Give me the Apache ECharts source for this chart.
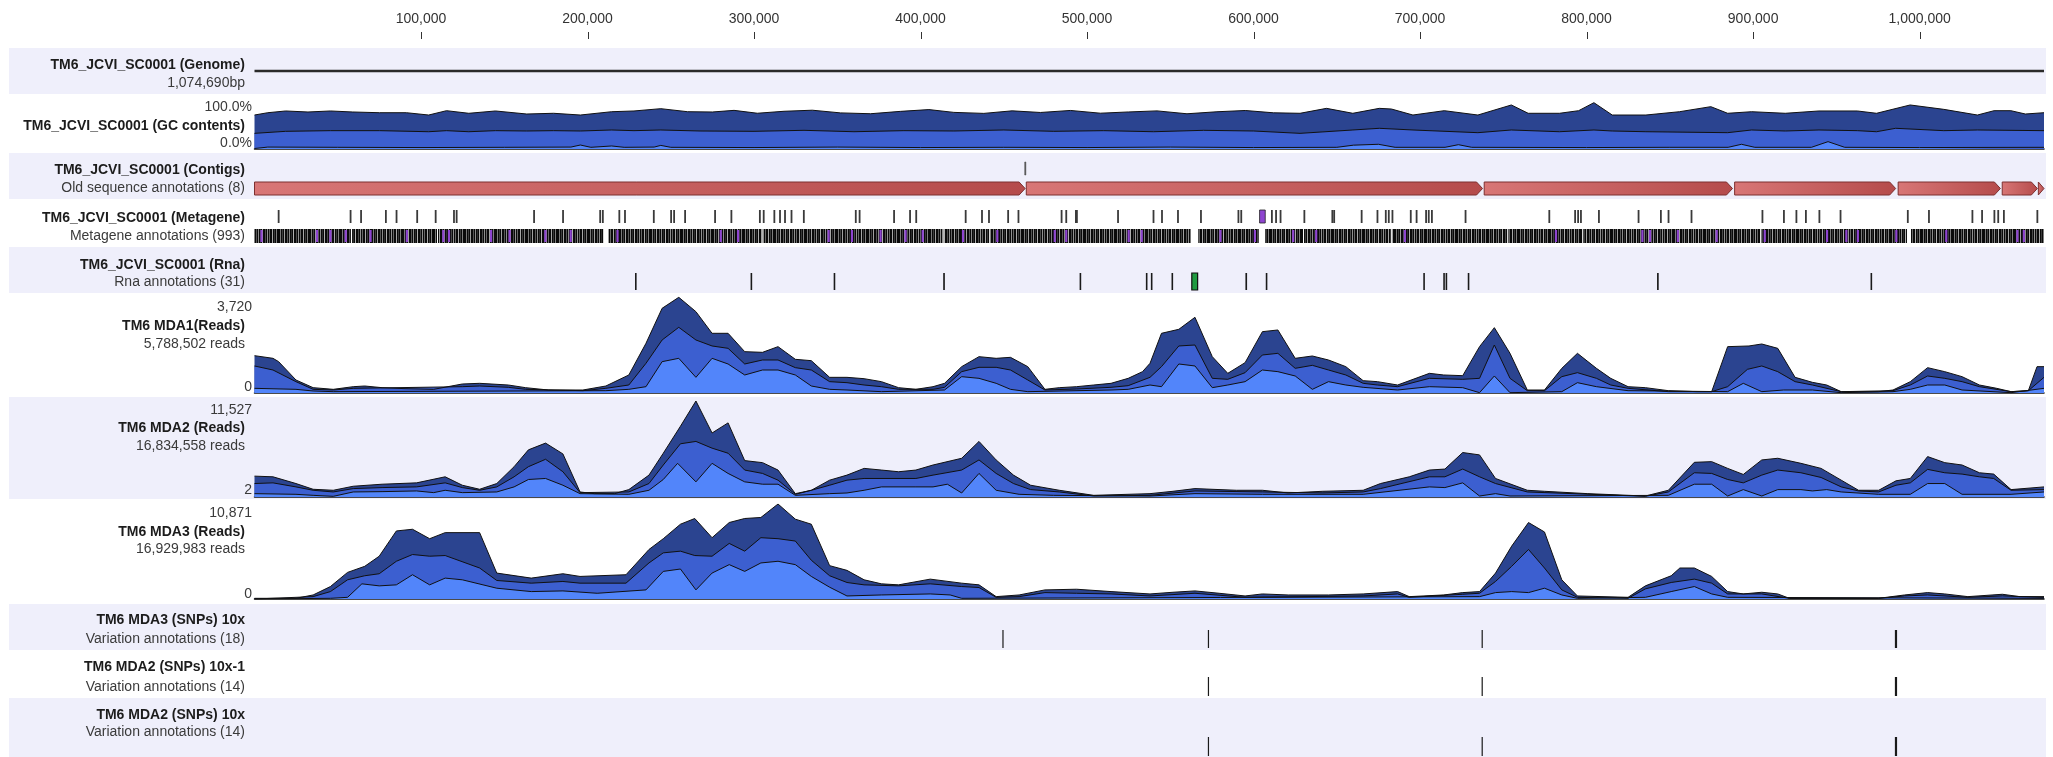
<!DOCTYPE html>
<html>
<head>
<meta charset="utf-8">
<style>
html,body{margin:0;padding:0;background:#fff;}
#chart{width:2053px;height:757px;}
</style>
<script src="https://cdn.jsdelivr.net/npm/echarts@6/dist/echarts.min.js"></script>
</head>
<body>
<div id="chart"></div>
<script>
// ---------------- DATA ----------------
const KB = 1000;
const genomeLength = 1074690;
const axisTicks = [100000, 200000, 300000, 400000, 500000, 600000, 700000, 800000, 900000, 1000000];

const trackTitles = ['TM6_JCVI_SC0001 (Genome)', 'TM6_JCVI_SC0001 (GC contents)', 'TM6_JCVI_SC0001 (Contigs)',
  'TM6_JCVI_SC0001 (Metagene)', 'TM6_JCVI_SC0001 (Rna)', 'TM6 MDA1(Reads)', 'TM6 MDA2 (Reads)', 'TM6 MDA3 (Reads)',
  'TM6 MDA3 (SNPs) 10x', 'TM6 MDA2 (SNPs) 10x-1', 'TM6 MDA2 (SNPs) 10x'];
const trackSubtitles = ['1,074,690bp', '', 'Old sequence annotations (8)', 'Metagene annotations (993)', 'Rna annotations (31)',
  '5,788,502 reads', '16,834,558 reads', '16,929,983 reads', 'Variation annotations (18)', 'Variation annotations (14)', 'Variation annotations (14)'];
const gcRange = [0, 100];
const gcRangeLabels = ['100.0%', '0.0%'];
const readsMax = [3720, 11527, 10871];
const readsMin = [0, 2, 0];

// GC contents (kb, %) - three stacked layer boundaries
const gcTop = [[0,70.8],[8,75.6],[18.7,79.2],[32.1,77.1],[45.6,79.2],[59,77.1],[75.1,75.6],[91.2,75.6],[104.6,70.8],[115.3,79.8],[128.7,74.4],[144.7,79.2],[163.5,72.9],[179.6,74.4],[195.7,70.8],[214.5,77.7],[227.9,79.2],[244,84],[260.1,77.7],[275,77.1],[288,80.5],[302,74.5],[318,78.6],[335,80.8],[352,75.2],[370,73.5],[388,78.4],[405,82.1],[420,76.3],[438,74.2],[455,79.5],[472,76.1],[490,80.3],[508,74.6],[525,77.2],[542,79.4],[560,73.4],[578,77.6],[595,80.2],[612,75.4],[627.9,74.4],[643.8,84.7],[659.6,74.4],[675.5,84.7],[682.8,83.3],[695.7,70.8],[714.5,79.8],[734.7,70.8],[754.8,91.7],[764.9,74.4],[783.7,74.4],[795.2,79.8],[804.4,96.5],[815.4,70.8],[835.6,70.8],[855.8,77.7],[874.6,88.2],[884.7,74.4],[899.1,77.7],[919.3,74.4],[939.5,79.2],[962.6,79.2],[974.1,74.4],[994.3,91.7],[1014.5,82.6],[1034.7,70.8],[1044.7,79.8],[1054.8,79.8],[1063.5,72.9],[1074.69,75.6]];
const gcMid = [[0,32.6],[18.7,36.8],[45.6,38.2],[75.1,38.2],[104.6,36],[115.3,38.2],[128.7,36],[144.7,38.2],[163.5,37.5],[179.6,38.2],[195.7,37.5],[214.5,39.6],[227.9,38.2],[244,39.6],[267.6,37.5],[300,36.8],[330,38.9],[360,36],[390,38.2],[420,37.5],[450,39.6],[480,36.8],[510,38.2],[540,36],[570,38.9],[600,37.5],[627.9,32.6],[659.6,39.6],[675.5,43.1],[695.7,39.6],[734.7,34],[754.8,39.6],[783.7,36],[804.4,39.6],[815.4,37.5],[835.6,36],[884.7,34],[899.1,39.6],[919.3,37.5],[939.5,39.6],[962.6,38.2],[974.1,36],[985.6,43.1],[1014.5,38.2],[1034.7,39.6],[1074.69,38.2]];
const gcLow = [[0,1],[8,4],[50,3.5],[100,3],[150,3.5],[190,4],[195.7,8.3],[202,3.5],[214.5,6.3],[222,3.5],[240,4],[244,7.5],[250,3.5],[300,3],[350,4],[400,3],[450,3.5],[500,3],[550,4],[600,3],[650,3.5],[660,8],[675,9.8],[685,3.5],[715,3.5],[723,9],[731,3.5],[800,3],[850,3.5],[885,3.5],[893,9.8],[901,3.5],[935,3.5],[945,15.3],[955,3.5],[1000,3],[1074.69,3.5]];

// Contigs (kb start, kb end, row)
const contigs = [[0,462.8,0],[463.5,737.5,0],[738.5,887.6,0],[888.9,985.6,0],[987.1,1048.5,0],[1049.6,1070.7,0],[1071.3,1074.69,0],[462.6,463.2,1]];

// Metagene (kb)
const metageneRow1 = [14.5,57.7,64,78.9,85.3,97.7,108.8,119.8,121.4,167.9,185.3,207.6,209.2,219.1,222.5,239.8,250.2,252,258.6,276.6,286.4,303.5,305.8,312.2,315.6,318.6,322.5,329.9,361.1,363.4,384.1,393.7,397.4,427.1,436.9,441.1,452.6,458.8,484.7,487.5,493.3,493.9,518.6,539.9,545,554.6,568.4,590.9,592.6,611,613.5,616.2,630.5,647.3,648.4,664.9,674.4,679.4,681.2,683.4,694.4,697.9,703.6,705.2,707.1,727.3,777.6,793.1,794.9,796.6,807.4,831.2,844.6,849.2,863,905.6,918.5,926,931.7,939.8,952.5,992.9,1005.6,1031.7,1037.5,1044.9,1047.2,1050.6,1070.7];
const metageneRow1Purple = [[603.6,607]];
const metageneRow2Blocks = [[0,57.9],[58.6,109.6],[110.2,209.6],[212.4,304.5],[305.2,413.2],[413.9,441.3],[442,562.2],[566.8,603.1],[607,629.7],[630.3,682.6],[683.3,752.4],[753,797.4],[798,904.3],[905,992.4],[994.8,1074.69]];
const metageneRow2Purple = [4.2,37.5,45.6,54.8,69.7,91.5,113.4,116.8,142.1,153.2,174.7,189.9,218,280,290.4,344.8,358.8,376,391,401.3,425.5,446.1,480.6,487.5,525,532.8,580.1,600.8,623.8,637.6,690.9,781.6,833.5,838.1,854.8,878.1,907,944.4,956,962.9,986,1016,1058.7,1062.6];

// Rna (kb start, kb end, type 0=black 1=green)
const rnaGenes = [[229,229,0],[298.4,298.4,0],[347.9,348.7,0],[413.6,414.6,0],[496,496,0],[535.8,535.8,0],[538.8,538.8,0],[551.2,551.2,0],[562.9,566.4,1],[595.1,596.1,0],[607.8,607.8,0],[702.4,702.4,0],[714.4,714.4,0],[715.8,715.8,0],[729.1,729.1,0],[842.3,843.3,0],[971,971,0]];

// Reads coverage (kb, reads) - boundaries of the three layers
const mda1Top = [[0,1447],[11.1,1344],[14.5,1214],[24.9,504],[35.2,207],[47.3,142],[59.3,245],[66.2,271],[76.6,207],[90.4,168],[107.6,142],[124.8,349],[135.2,375],[152.4,310],[162.8,207],[176.5,116],[197.2,116],[211,271],[224.8,698],[235.1,1925],[244.8,3282],[254.8,3708],[265.1,3152],[274.8,2313],[284.4,2313],[294.4,1602],[305.1,1576],[314.4,1796],[324.8,1305],[334.4,1253],[345.4,607],[355.8,607],[366.1,555],[376.5,439],[386.8,207],[397.2,142],[407.5,245],[414.4,375],[424.7,1021],[435.1,1408],[445.4,1344],[454,1382],[464.4,1021],[474.7,142],[483.3,207],[493.7,245],[504,310],[514.4,375],[524.7,568],[533.3,827],[537.8,1150],[544.7,2313],[555.1,2468],[564.8,2933],[575.2,1408],[584.5,762],[594.9,1176],[605.3,2377],[614.6,2442],[625,1344],[635.3,1434],[645,1279],[655.4,1021],[665.8,478],[674.4,439],[686.5,310],[705.6,762],[714.2,698],[725.6,672],[735.7,1796],[744.6,2532],[754,1537],[764.4,116],[774.7,116],[785.1,956],[794.5,1537],[805.9,956],[814.5,568],[824.9,245],[835.3,207],[849.1,90],[866.4,52],[875.1,52],[884.7,1796],[897.5,1822],[905.2,1899],[914.8,1731],[925.2,607],[935.6,413],[944.2,310],[952.9,52],[975.4,52],[984,116],[994.4,439],[1004.8,982],[1015.1,827],[1025.5,633],[1035.9,310],[1046.3,181],[1054.9,52],[1065.3,90],[1070.5,1021],[1074.69,1021]];
const mda1Mid = [[0,1047],[11.1,891],[24.9,439],[35.2,142],[47.3,116],[59.3,181],[124.8,245],[135.2,271],[152.4,220],[162.8,142],[197.2,90],[211,181],[224.8,310],[235.1,1150],[244.8,2054],[254.8,2545],[265.1,2054],[274.8,1822],[284.4,1731],[294.4,1124],[305.1,1279],[314.4,1279],[324.8,982],[334.4,891],[345.4,439],[355.8,400],[366.1,310],[376.5,245],[386.8,142],[407.5,142],[414.4,220],[424.7,827],[435.1,995],[445.4,995],[454,891],[464.4,504],[474.7,116],[493.7,155],[514.4,220],[524.7,284],[537.8,607],[544.7,1021],[555.1,1822],[564.8,1860],[575.2,568],[584.5,530],[594.9,788],[605.3,1473],[614.6,1537],[625,956],[635.3,1072],[645,891],[655.4,698],[665.8,375],[674.4,310],[686.5,245],[705.6,568],[725.6,530],[735.7,568],[744.6,1860],[754,568],[764.4,90],[774.7,90],[785.1,633],[794.5,788],[805.9,568],[814.5,310],[824.9,181],[849.1,52],[875.1,52],[884.7,245],[896.6,917],[905.2,1047],[914.8,827],[925.2,439],[935.6,310],[952.9,52],[984,90],[994.4,310],[1004.8,659],[1015.1,568],[1025.5,439],[1035.9,245],[1054.9,52],[1065.3,90],[1074.69,607]];
const mda1Low = [[0,181],[24.9,142],[35.2,78],[47.3,52],[211,90],[224.8,142],[235.1,245],[244.8,1214],[254.8,1344],[265.1,607],[274.8,1344],[284.4,1124],[294.4,698],[305.1,891],[314.4,891],[324.8,698],[334.4,271],[345.4,142],[355.8,116],[376.5,52],[414.4,116],[424.7,633],[435.1,568],[445.4,375],[454,142],[464.4,52],[514.4,116],[524.7,142],[537.8,310],[544.7,245],[555.1,1124],[564.8,1047],[575.2,207],[584.5,310],[594.9,439],[605.3,891],[614.6,827],[625,659],[635.3,142],[645,439],[655.4,310],[665.8,220],[686.5,116],[705.6,245],[725.6,207],[735.7,13],[744.6,659],[754,13],[785.1,52],[794.5,400],[805.9,245],[824.9,90],[884.7,52],[894.1,375],[905.2,52],[918.3,116],[935.6,116],[952.9,13],[984,52],[994.4,142],[1004.8,310],[1015.1,310],[1025.5,116],[1054.9,13],[1074.69,181]];

const mda2Top = [[0,2508],[11.1,2427],[24.9,1618],[35.2,930],[47.3,809],[59.3,1294],[76.6,1537],[97.3,1699],[114.5,2427],[124.8,1416],[135.2,930],[145.5,1618],[155.9,3640],[164.5,5663],[174.8,6472],[185.2,5178],[195.5,607],[204.1,405],[216.2,405],[224.8,890],[236.9,2629],[245.5,5259],[255.8,8495],[265.1,11527],[274.8,7686],[284.4,8899],[294.4,4369],[305.1,4126],[314.4,3236],[324.8,405],[334.4,809],[345.4,2023],[355.8,2629],[366.1,3438],[376.5,3236],[386.8,3034],[397.2,3236],[407.5,3843],[424.7,4652],[435.1,6674],[445.4,4450],[455.8,2629],[466.1,1416],[483.3,809],[504,202],[537.8,405],[551.6,688],[564.8,1011],[589.7,809],[605.3,809],[620.8,485],[641.6,688],[665.8,809],[676.2,1618],[693.5,2427],[705.6,3236],[714.9,3357],[725.6,5339],[735.7,5056],[745.3,2225],[764.4,809],[774.7,688],[800.7,405],[835.3,121],[849.1,809],[864.7,4166],[875.1,4247],[884.7,3438],[894.1,2710],[905.2,4450],[914.8,4652],[928.7,4045],[940.8,3438],[952.9,2023],[963.3,809],[975.4,809],[985.8,1942],[994.4,2225],[1004.8,4854],[1015.1,4126],[1025.5,3843],[1035.9,2912],[1044.5,2751],[1054.9,890],[1074.69,1214]];
const mda2Mid = [[0,1618],[11.1,1699],[24.9,1214],[35.2,809],[47.3,607],[59.3,1011],[76.6,1133],[97.3,1214],[114.5,1699],[124.8,1133],[135.2,809],[145.5,1214],[155.9,2427],[164.5,3640],[174.8,4530],[185.2,3034],[195.5,526],[224.8,607],[236.9,1618],[245.5,3843],[255.8,6391],[265.1,6674],[274.8,5865],[284.4,5259],[294.4,3236],[305.1,2832],[314.4,2023],[324.8,324],[334.4,809],[345.4,1416],[355.8,2023],[366.1,2225],[397.2,2225],[407.5,2629],[424.7,3236],[435.1,4450],[445.4,2832],[455.8,1618],[466.1,890],[483.3,607],[504,121],[537.8,202],[564.8,728],[605.3,607],[641.6,485],[665.8,607],[676.2,1011],[705.6,2427],[714.9,2427],[725.6,3357],[735.7,2427],[745.3,1618],[764.4,607],[835.3,81],[849.1,607],[864.7,2912],[875.1,2832],[884.7,2103],[894.1,1699],[905.2,2629],[914.8,3236],[928.7,2912],[940.8,2346],[952.9,1214],[963.3,728],[975.4,607],[985.8,1416],[994.4,1699],[1004.8,3317],[1015.1,2912],[1025.5,2751],[1035.9,2427],[1044.5,2225],[1054.9,809],[1074.69,890]];
const mda2Low = [[0,405],[24.9,324],[35.2,202],[47.3,81],[59.3,607],[76.6,647],[97.3,728],[107.6,526],[114.5,809],[124.8,526],[145.5,607],[155.9,1214],[164.5,2103],[174.8,2225],[185.2,1416],[195.5,405],[224.8,324],[236.9,809],[245.5,2103],[254.1,4045],[265.1,1820],[274.8,4045],[284.4,2832],[294.4,1820],[305.1,1537],[314.4,1537],[324.8,202],[345.4,405],[355.8,485],[366.1,809],[376.5,1214],[397.2,1214],[407.5,1214],[416.1,1537],[424.7,485],[435.1,2832],[445.4,809],[459.2,324],[479.9,202],[537.8,121],[564.8,405],[605.3,324],[665.8,324],[705.6,1214],[714.9,1133],[725.6,1699],[735.7,121],[745.3,405],[754,121],[849.1,202],[864.7,1537],[875.1,1537],[884.7,121],[894.1,890],[905.2,121],[914.8,890],[928.7,890],[935.6,728],[944.2,890],[952.9,607],[975.4,324],[994.4,324],[1004.8,1618],[1015.1,1618],[1025.5,324],[1054.9,324],[1074.69,607]];

const mda3Top = [[0,77],[24.9,77],[35.2,463],[45.6,1426],[55.9,3045],[66.2,3739],[74.9,4896],[85.2,7787],[94.9,7980],[105.2,6900],[114.5,7594],[135.2,7594],[145.5,2968],[166.2,2390],[185.2,2891],[195.5,2583],[223.1,2776],[236.9,5667],[245.5,6900],[255.8,8558],[264.4,9213],[274.8,7016],[285.1,8751],[294.4,9213],[304.1,9329],[314.4,10871],[324.8,9136],[334.4,8558],[345.4,3816],[355.8,3277],[366.1,2197],[376.5,1735],[386.8,1619],[405.8,2274],[424.7,1812],[435.1,1619],[445.4,270],[459.2,463],[474.7,1041],[493.7,1118],[514.4,848],[537.8,578],[551.6,771],[564.8,925],[579.3,655],[594.9,347],[605.3,578],[620.8,463],[645,463],[665.8,578],[686.5,848],[693.5,270],[714.2,463],[725.6,733],[735.7,848],[745.3,2968],[755,6052],[765.1,8751],[774.7,7672],[785.1,2197],[794.5,347],[824.9,193],[835.3,1503],[850.8,2660],[856,3547],[864.7,3547],[875.1,2583],[884.7,848],[894.1,578],[905.2,771],[914.8,578],[921.8,77],[975.4,77],[991,463],[1004.8,733],[1015.1,578],[1029,270],[1049.7,540],[1060.1,270],[1074.69,270]];
const mda3Mid = [[0,0],[35.2,270],[45.6,848],[55.9,2197],[66.2,2660],[74.9,2891],[85.2,4318],[94.9,5089],[105.2,4896],[114.5,4973],[135.2,3547],[145.5,2120],[166.2,1812],[185.2,2005],[195.5,1812],[223.1,1812],[236.9,4125],[245.5,5281],[255.8,5474],[264.4,4973],[274.8,4896],[285.1,6361],[294.4,5474],[304.1,7016],[314.4,6900],[324.8,6631],[334.4,4433],[345.4,2660],[355.8,1889],[366.1,1619],[386.8,1503],[405.8,1735],[424.7,1426],[435.1,1311],[445.4,193],[459.2,270],[474.7,733],[493.7,655],[514.4,578],[537.8,347],[564.8,655],[594.9,193],[665.8,347],[686.5,578],[693.5,193],[725.6,540],[735.7,655],[745.3,2005],[755,3739],[765.1,5667],[774.7,3547],[785.1,1041],[794.5,193],[824.9,77],[835.3,1157],[850.8,1889],[864.7,2274],[875.1,1812],[884.7,578],[905.2,578],[921.8,77],[975.4,77],[991,347],[1004.8,463],[1029,193],[1049.7,347],[1074.69,193]];
const mda3Low = [[0,0],[45.6,77],[55.9,193],[64.5,1735],[74.9,1503],[85.2,1619],[94.9,2776],[105.2,1619],[114.5,2390],[124.8,2197],[145.5,1234],[166.2,848],[185.2,925],[205.8,655],[235.1,1041],[245.5,3161],[255.8,3431],[265.1,1041],[274.8,2968],[285.1,3932],[294.4,3161],[304.1,4125],[314.4,4318],[324.8,3932],[334.4,2583],[345.4,1349],[355.8,347],[376.5,463],[405.8,578],[417.8,463],[424.7,77],[735.7,270],[745.3,733],[755,848],[765.1,733],[774.7,1234],[785.1,463],[794.5,77],[835.3,193],[850.8,848],[864.7,1426],[875.1,578],[884.7,193],[1074.69,77]];

// SNPs (kb)
const snpMda3 = [449.5, 572.9, 737.3, 985.5, 985.8, 986.1];
const snpMda2a = [572.9, 737.3, 985.5, 985.8, 986.1];
const snpMda2b = [572.9, 737.3, 985.5, 985.8, 986.1];

// ---------------- LAYOUT / STYLE ----------------
const FONT = '"Liberation Sans", Arial, Helvetica, sans-serif';
const PLOT_LEFT = 254.5, PLOT_RIGHT = 2044, BAND_LEFT = 9, BAND_RIGHT = 2046;
const bands = [[48,94],[94,153],[153,199],[199,247],[247,293],[293,397],[397,499],[499,604],[604,650],[650,698],[698,757]];
// last box: the tick strip of the top ruler
const gridBoxes = [[48,46],[101,48],[153,46],[199,48],[247,46],[297,96],[401,96],[504,95],[604,46],[650,48],[698,59],[32,7]];
const titleY = [65,126,170,218,265,326,428,532,620,667,715];
const subY = [83,null,188,236,282,344,446,549,639,687,732];
const C_DARK = '#2b4490', C_MID = '#3c5fd0', C_LIGHT = '#5285fa';
const RULER = 11;

const toBp = arr => arr.map(d => [d[0] * KB, d[1]]);
const chart = echarts.init(document.getElementById('chart'), null, {renderer: 'canvas'});

const grid = gridBoxes.map(g => ({left: PLOT_LEFT, width: PLOT_RIGHT - PLOT_LEFT, top: g[0], height: g[1], containLabel: false}));
const baselineAxes = [1, 5, 6, 7];
const xAxis = gridBoxes.map((g, i) => {
  const ax = {gridIndex: i, type: 'value', min: 0, max: genomeLength, splitLine: {show: false}};
  if (i === 0) {
    Object.assign(ax, {position: 'top', offset: 9, interval: 100000,
      axisLine: {show: false},
      axisTick: {show: false},
      axisLabel: {show: true, margin: 13, fontSize: 14, color: '#333', fontFamily: FONT, customValues: axisTicks,
        formatter: v => Number(v).toLocaleString('en-US')}});
  } else if (baselineAxes.includes(i)) {
    Object.assign(ax, {position: 'bottom', axisLine: {show: true, onZero: false, lineStyle: {color: '#111', width: 1.5}},
      axisTick: {show: false}, axisLabel: {show: false}});
  } else {
    ax.show = false;
  }
  return ax;
});
const yRanges = [[0,1], gcRange, [0,1], [0,1], [0,1], [readsMin[0], readsMax[0]], [readsMin[1], readsMax[1]], [readsMin[2], readsMax[2]], [0,1], [0,1], [0,1], [0,1]];
const yAxis = yRanges.map((r, i) => ({gridIndex: i, type: 'value', min: r[0], max: r[1], show: false}));

function areaSeries(idx, data, color) {
  return {type: 'line', xAxisIndex: idx, yAxisIndex: idx, data: toBp(data), symbol: 'none', silent: true,
    lineStyle: {color: '#111', width: 1}, areaStyle: {color: color, opacity: 1}, z: 3};
}
function ticksData(list) { return list.map(p => [p * KB, p * KB, 0]); }
function spanData(list) { return list.map(s => [s[0] * KB, s[1] * KB, s[2] || 0]); }

function tickRenderer(offset, h, color, minW, stroke) {
  return function (params, api) {
    const cs = params.coordSys;
    const x0 = api.coord([api.value(0), 0])[0];
    const x1 = api.coord([api.value(1), 0])[0];
    const w = Math.max(minW, x1 - x0);
    const cx = (x0 + x1) / 2;
    const style = {fill: color};
    if (stroke) { style.stroke = stroke; style.lineWidth = 0.8; }
    return {type: 'rect', shape: {x: cx - w / 2, y: cs.y + offset, width: w, height: h}, style: style};
  };
}
function customSeries(idx, data, render, z) {
  return {type: 'custom', xAxisIndex: idx, yAxisIndex: idx, data: data, renderItem: render, silent: true,
    encode: {x: [0, 1], y: 2}, z: z || 3};
}

// barcode-like texture for the dense metagene row
function barcodePattern() {
  const c = document.createElement('canvas');
  c.width = 31; c.height = 16;
  const g = c.getContext('2d');
  g.fillStyle = '#0a0a0a'; g.fillRect(0, 0, 31, 16);
  [[1,'#7a7a7a'],[3,'#3e3e3e'],[5,'#a0a0a0'],[8,'#555'],[10,'#8a8a8a'],[12,'#2e2e2e'],[14,'#b0b0b0'],[17,'#4a4a4a'],
   [19,'#909090'],[21,'#666'],[24,'#a8a8a8'],[26,'#3a3a3a'],[28,'#7e7e7e']].forEach(s => {
    g.fillStyle = s[1]; g.fillRect(s[0], 0, 1, 16);
  });
  return c;
}
const barcode = {image: barcodePattern(), repeat: 'repeat'};

const contigGradient = () => new echarts.graphic.LinearGradient(0, 0, 1, 0, [{offset: 0, color: '#d87676'}, {offset: 1, color: '#b54b4b'}]);
function contigRender(params, api) {
  const cs = params.coordSys;
  const x0 = api.coord([api.value(0), 0])[0];
  const x1 = api.coord([api.value(1), 0])[0];
  const row = api.value(2);
  const y = cs.y + (row === 0 ? 29 : 9);
  const h = 13;
  const w = Math.max(1, x1 - x0);
  if (row !== 0) {
    return {type: 'rect', shape: {x: x0, y: y, width: w, height: h}, style: {fill: '#555', stroke: '#444', lineWidth: 0.6}};
  }
  const tip = Math.min(6, w);
  return {type: 'polygon', shape: {points: [[x0, y], [x0 + w - tip, y], [x0 + w, y + h / 2], [x0 + w - tip, y + h], [x0, y + h]]},
    style: {fill: contigGradient(), stroke: '#7d3030', lineWidth: 1}};
}
function rnaRender(params, api) {
  const cs = params.coordSys;
  const x0 = api.coord([api.value(0), 0])[0];
  const x1 = api.coord([api.value(1), 0])[0];
  const type = api.value(2);
  const w = Math.max(1.6, x1 - x0);
  const cx = (x0 + x1) / 2;
  if (type === 1) {
    return {type: 'rect', shape: {x: cx - w / 2, y: cs.y + 26, width: w, height: 17}, style: {fill: '#1f9a40', stroke: '#111', lineWidth: 1.2}};
  }
  return {type: 'rect', shape: {x: cx - w / 2, y: cs.y + 26, width: w, height: 17}, style: {fill: '#1a1a1a'}};
}
function rulerRender(params, api) {
  const cs = params.coordSys;
  const x = Math.round(api.coord([api.value(0), 0])[0]) + 0.5;
  return {type: 'line', shape: {x1: x, y1: cs.y, x2: x, y2: cs.y + cs.height}, style: {stroke: '#333', lineWidth: 1}};
}

const series = [
  // top ruler ticks
  customSeries(RULER, axisTicks.map(t => [t, t, 0]), rulerRender),
  // genome line
  {type: 'line', xAxisIndex: 0, yAxisIndex: 0, data: [[0, 0.5], [genomeLength, 0.5]], symbol: 'none', silent: true,
    lineStyle: {color: '#2a2a2a', width: 2.5}},
  // GC contents
  areaSeries(1, gcTop, C_DARK), areaSeries(1, gcMid, C_MID), areaSeries(1, gcLow, C_LIGHT),
  // contigs
  customSeries(2, spanData(contigs), contigRender),
  // metagene
  customSeries(3, spanData(metageneRow2Blocks), function (params, api) {
    const cs = params.coordSys;
    const x0 = api.coord([api.value(0), 0])[0];
    const x1 = api.coord([api.value(1), 0])[0];
    return {type: 'rect', shape: {x: x0, y: cs.y + 30, width: Math.max(1, x1 - x0), height: 14}, style: {fill: barcode}};
  }),
  customSeries(3, ticksData(metageneRow2Purple), tickRenderer(31, 12, '#8e45d0', 2.2), 4),
  customSeries(3, ticksData(metageneRow1), tickRenderer(11, 13, '#3a3a3a', 1.8)),
  customSeries(3, spanData(metageneRow1Purple), tickRenderer(11, 13, '#8e45d0', 2, '#222'), 4),
  // rna
  customSeries(4, spanData(rnaGenes), rnaRender),
  // reads
  areaSeries(5, mda1Top, C_DARK), areaSeries(5, mda1Mid, C_MID), areaSeries(5, mda1Low, C_LIGHT),
  areaSeries(6, mda2Top, C_DARK), areaSeries(6, mda2Mid, C_MID), areaSeries(6, mda2Low, C_LIGHT),
  areaSeries(7, mda3Top, C_DARK), areaSeries(7, mda3Mid, C_MID), areaSeries(7, mda3Low, C_LIGHT),
  // SNPs
  customSeries(8, ticksData(snpMda3), tickRenderer(26, 18, '#1a1a1a', 1.2)),
  customSeries(9, ticksData(snpMda2a), tickRenderer(27, 19, '#1a1a1a', 1.2)),
  customSeries(10, ticksData(snpMda2b), tickRenderer(39, 19, '#1a1a1a', 1.2))
];

// graphic: background bands and track labels
const graphics = [];
bands.forEach((b, i) => {
  if (i % 2 === 0) {
    graphics.push({type: 'rect', z: -10, silent: true, shape: {x: BAND_LEFT, y: b[0], width: BAND_RIGHT - BAND_LEFT, height: b[1] - b[0]},
      style: {fill: '#efeffb'}});
  }
});
function label(text, x, y, bold, color) {
  return {type: 'text', x: x, y: y, z: 10, silent: true,
    style: {text: text, font: (bold ? 'bold ' : '') + '14px ' + FONT, fill: color, textAlign: 'right', textVerticalAlign: 'middle', verticalAlign: 'middle'}};
}
trackTitles.forEach((t, i) => {
  graphics.push(label(t, 245, titleY[i], true, '#1c1c1c'));
  if (trackSubtitles[i]) graphics.push(label(trackSubtitles[i], 245, subY[i], false, '#3a3a3a'));
});
graphics.push(label(gcRangeLabels[0], 252, 107, false, '#3a3a3a'));
graphics.push(label(gcRangeLabels[1], 252, 143, false, '#3a3a3a'));
const maxLabelY = [307, 410, 513], minLabelY = [387, 490, 594];
readsMax.forEach((m, i) => {
  graphics.push(label(m.toLocaleString('en-US'), 252, maxLabelY[i], false, '#3a3a3a'));
  graphics.push(label(readsMin[i].toLocaleString('en-US'), 252, minLabelY[i], false, '#3a3a3a'));
});

chart.setOption({
  animation: false,
  backgroundColor: '#ffffff',
  textStyle: {fontFamily: FONT},
  grid: grid,
  xAxis: xAxis,
  yAxis: yAxis,
  series: series,
  graphic: {elements: graphics}
});
</script>
</body>
</html>
